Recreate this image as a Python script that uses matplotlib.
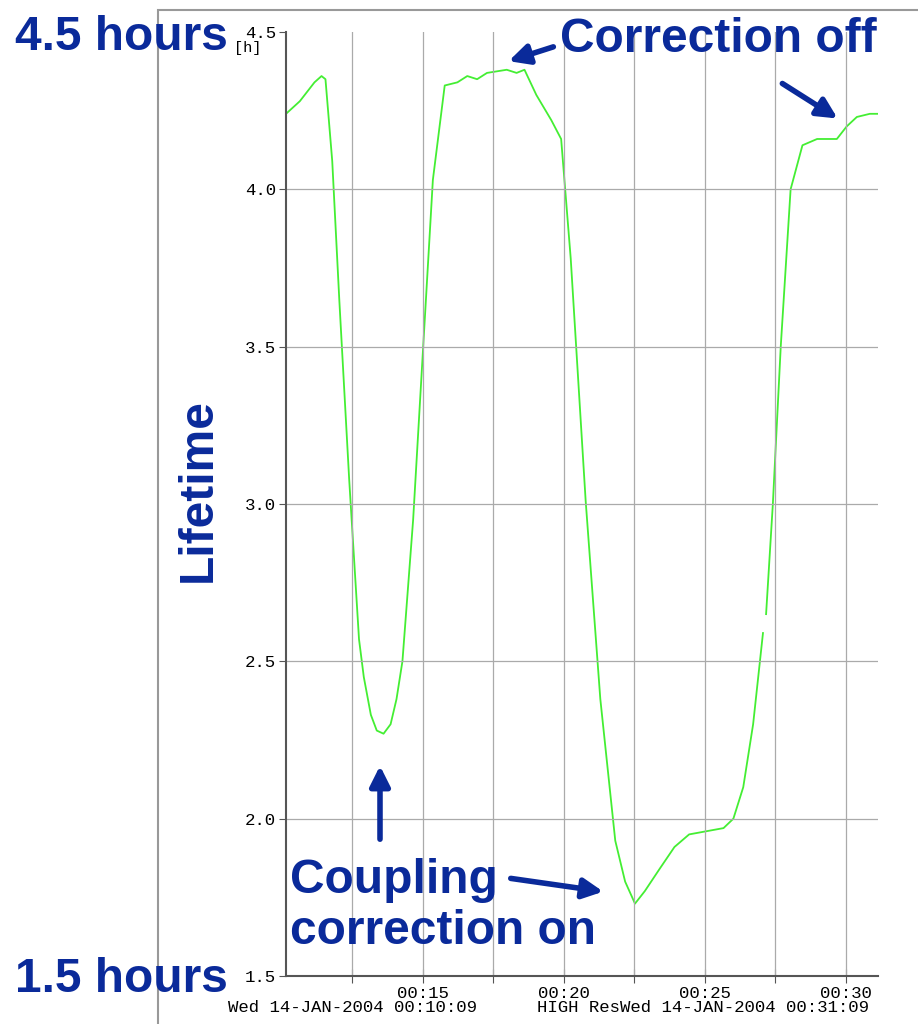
import numpy as np
import matplotlib.pyplot as plt
from matplotlib.patches import Rectangle

# minutes after 00:00, lifetime in hours
minutes = [10.15, 10.64, 11.16, 11.41, 11.55, 11.79, 12.04, 12.39, 12.74, 12.91, 13.16, 13.37,
           13.61, 13.86, 14.07, 14.28, 14.66, 15.01, 15.36, 15.78, 16.23, 16.58, 16.93, 17.28,
           17.98, 18.33, 18.61, 19.03, 19.56, 19.91, 20.25, 20.78, 21.30, 21.83, 22.18, 22.53,
           22.88, 23.40, 23.93, 24.45, 25.67, 26.02, 26.37, 26.72, 27.07, 27.12, 27.18, 27.42,
           27.70, 28.05, 28.47, 28.99, 29.69, 30.04, 30.40, 30.86, 31.15]
lifetime = [4.24, 4.28, 4.34, 4.36, 4.35, 4.09, 3.65, 3.08, 2.57, 2.45, 2.33, 2.28,
            2.27, 2.30, 2.38, 2.50, 2.95, 3.49, 4.03, 4.33, 4.34, 4.36, 4.35, 4.37,
            4.38, 4.37, 4.38, 4.30, 4.22, 4.16, 3.78, 3.01, 2.38, 1.93, 1.80, 1.73,
            1.77, 1.84, 1.91, 1.95, 1.97, 2.00, 2.10, 2.30, 2.59, np.nan, 2.65, 3.00,
            3.50, 4.00, 4.14, 4.16, 4.16, 4.20, 4.23, 4.24, 4.24]
xticks = [15, 20, 25, 30]
xtick_labels = ["00:15", "00:20", "00:25", "00:30"]
yticks = [1.5, 2.0, 2.5, 3.0, 3.5, 4.0, 4.5]

mono = "Liberation Mono"
blue = "#0a2a9a"

fig = plt.figure(figsize=(9.18, 10.24), dpi=100)
fig.patches.append(Rectangle((158 / 918, -0.01), 0.9, 1.0, transform=fig.transFigure,
                             fill=False, edgecolor="#999999", lw=1.5))
ax = fig.add_axes([286 / 918, 48 / 1024, 592 / 918, 944 / 1024])
ax.plot(minutes, lifetime, color="#44ee33", lw=1.3)
ax.set_xlim(10.15, 31.15)
ax.set_ylim(1.5, 4.5)
grid_x = np.arange(12.5, 31, 2.5)
for x in grid_x:
    ax.axvline(x, color="#aaaaaa", lw=0.9)
for y in [2.0, 2.5, 3.0, 3.5, 4.0]:
    ax.axhline(y, color="#aaaaaa", lw=0.9)
ax.set_xticks(grid_x)
ax.set_xticklabels(["" if t not in xticks else xtick_labels[xticks.index(t)] for t in grid_x],
                   family=mono, fontsize=12.5)
ax.set_yticks(yticks)
ax.set_yticklabels(["%.1f" % v for v in yticks], family=mono, fontsize=12.5)
ax.tick_params(axis="x", direction="inout", length=10, color="#555555", pad=2)
ax.tick_params(axis="y", direction="out", length=5, color="#555555", pad=2)
for s in ["top", "right"]:
    ax.spines[s].set_visible(False)
for s in ["left", "bottom"]:
    ax.spines[s].set_color("#555555")
    ax.spines[s].set_linewidth(1.5)

fig.text(248 / 918, 1 - 48 / 1024, "[h]", family=mono, fontsize=11, ha="center", va="center")
fig.text(228 / 918, 1 - 1008 / 1024, "Wed 14-JAN-2004 00:10:09", family=mono, fontsize=12.5, va="center")
fig.text(537 / 918, 1 - 1008 / 1024, "HIGH ResWed 14-JAN-2004 00:31:09", family=mono, fontsize=12.5, va="center")

big = dict(family="Liberation Sans", fontweight="bold", fontsize=34.5, color=blue)
fig.text(15 / 918, 1 - 38 / 1024, "4.5 hours", va="center", **big)
fig.text(15 / 918, 1 - 980 / 1024, "1.5 hours", va="center", **big)
fig.text(560 / 918, 1 - 40 / 1024, "Correction off", va="center", **big)
fig.text(198 / 918, 1 - 490 / 1024, "Lifetime", va="center", ha="center", rotation=90, **big)
fig.text(290 / 918, 1 - 906 / 1024, "Coupling\ncorrection on", va="center", linespacing=1.15, **big)

def arrow(x0, y0, x1, y1):
    fig.add_artist(plt.Annotation("", xy=(x1 / 918, 1 - y1 / 1024), xytext=(x0 / 918, 1 - y0 / 1024),
                                  xycoords="figure fraction", textcoords="figure fraction",
                                  arrowprops=dict(arrowstyle="-|>,head_length=1.2,head_width=0.6",
                                                  color=blue, lw=4)))

arrow(556, 46, 506, 62)
arrow(780, 82, 840, 120)
arrow(380, 842, 380, 763)
arrow(508, 878, 606, 892)

plt.savefig("out.png", dpi=100)
